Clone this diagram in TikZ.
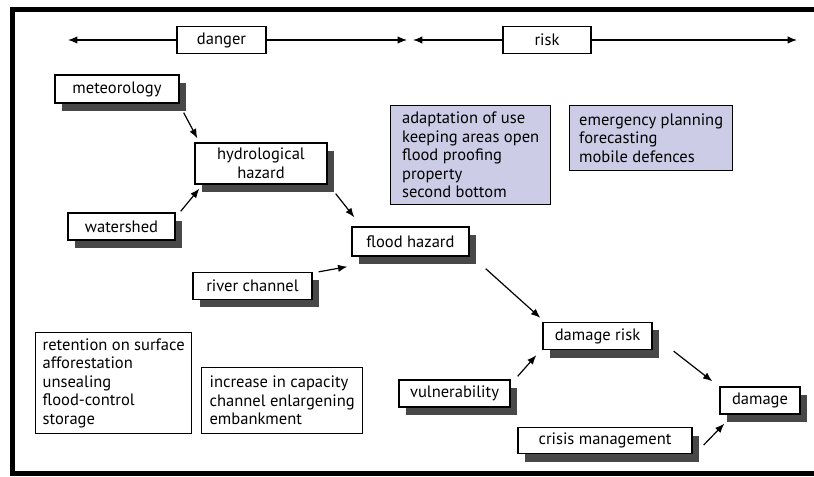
\documentclass[tikz,border=0pt]{standalone}
\usepackage{fontspec}
\setmainfont{PT Sans}
\usetikzlibrary{shadows}
\usetikzlibrary{positioning}
\usetikzlibrary{arrows.meta}
\usetikzlibrary{calc}

\definecolor{measure}{RGB}{204,204,230}
\definecolor{shade}{RGB}{72,72,72}
\def\u{0.75pt}

\begin{document}
\begin{tikzpicture}[x=0.75pt, y=-0.75pt,
  box/.style={draw, line width=1pt, fill=white, inner sep=0pt, align=center,
    font=\fontsize{12.4}{13.9}\selectfont},
  sbox/.style={box, drop shadow={shadow xshift=5.25pt, shadow yshift=-6pt, opacity=1, fill=shade}},
  lbox/.style={box, anchor=north west, align=left},
  arr/.style={-{Latex[length=7pt,width=5.5pt]}, line width=0.9pt}]

 \useasboundingbox (0,0) rectangle (814,477);
 \draw[line width=3.75pt] (814,473.5) -- (12.5,473.5) -- (12.5,9.5) -- (814,9.5);

 %top row
 \coordinate (dl) at (68,40);
 \coordinate (dr) at (407,40);
 \coordinate (rl) at (413,40);
 \coordinate (rr) at (797,40);
 \node[box, minimum width=89*\u, minimum height=27*\u] (danger) at (221.5,40) {danger};
 \node[box, minimum width=88*\u, minimum height=27*\u] (risk) at (547,40) {risk};
 \draw[arr] (danger) -- (dl);
 \draw[arr] (danger) -- (dr);
 \draw[arr] (risk) -- (rl);
 \draw[arr] (risk) -- (rr);

 %chain
  \foreach \nm/\cx/\cy/\w/\h/\txt in {met/117/89/124/28/meteorology,
      hyd/261/163.5/132/41/{hydrological\\hazard}, wat/121.5/226.5/107/27/watershed,
      flood/410.5/241.5/117/29/flood hazard, river/252.5/286/119/27/river channel,
      drisk/597.5/336/109/27/damage risk, vuln/454.5/393.5/111/27/vulnerability,
      dmg/760/400.5/80/27/damage, crisis/605/440.5/174/26/crisis management} {
         \node[sbox, minimum width=\w*\u, minimum height=\h*\u] (\nm) at (\cx,\cy) {\txt};
 }

 %measures
  \foreach \nm/\lx/\ty/\w/\h/\col/\txt in {
      adapt/390/105/160/99/measure/{adaptation of use\\keeping areas open\\flood proofing\\property\\second bottom},
      emerg/569/105/163/65/measure/{emergency planning\\forecasting\\mobile defences},
      retain/35/332/156/101/white/{retention on surface\\afforestation\\unsealing\\flood-control\\storage},
      capac/201/367/161/66/white/{increase in capacity\\channel enlargening\\embankment}} {
         \node[lbox, fill=\col, minimum width=\w*\u, minimum height=\h*\u] (\nm) at (\lx,\ty) {\txt};
 }

 \draw[arr] ($(met.south east)+(4,9)$) -- ($(hyd.north west)+(3,-4)$);
 \draw[arr] ($(wat.north east)+(5,-1)$) -- ($(hyd.south west)+(5,4)$);
 \draw[arr] ($(hyd.south east)+(8,9)$) -- ($(flood.north west)+(3,-9)$);
 \draw[arr] ($(river.north east)+(6,0)$) -- ($(flood.south west)+(-4,10)$);
 \draw[arr] ($(flood.south east)+(16,12)$) -- ($(drisk.north west)+(-2,-4)$);
 \draw[arr] ($(vuln.north east)+(7,-3)$) -- ($(drisk.south west)+(-6,5)$);
 \draw[arr] ($(drisk.south east)+(21,1)$) -- ($(dmg.north west)+(-7,-5)$);
 \draw[arr] ($(crisis.east)+(11,4.5)$) -- ($(dmg.south west)+(5,9)$);

\end{tikzpicture}
\end{document}
